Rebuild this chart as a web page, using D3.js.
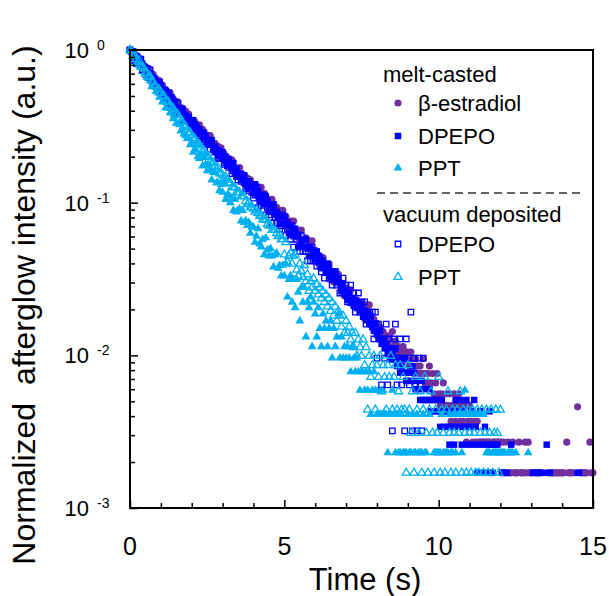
<!DOCTYPE html>
<html>
<head>
<meta charset="utf-8">
<script src="https://cdn.jsdelivr.net/npm/d3@7/dist/d3.min.js"></script>
<style>
  body { margin: 0; background: #fff; }
  svg text { font-family: "Liberation Sans", Arial, sans-serif; fill: #000; }
</style>
</head>
<body>
<svg id="chart" width="609" height="596"></svg>
<script>
/* global d3 */
// sampling interval of the afterglow traces (s)
var timeStep = 0.05;

// normalized intensity, one value per time step starting at 0 s (null = no count)
var estradiolMelt = [
  1, .955, .977, .891, .891, .912, .832, .851, .794, .759, .776, .741, .759, .692, .676, .692, .631, .646, .617, .631,
  .575, .589, .537, .550, .537, .501, .525, .479, .479, .447, .457, .457, .417, .417, .417, .380, .398, .363, .380, .347,
  .347, .324, .339, .302, .316, .324, .288, .302, .275, .257, .275, .263, .275, .240, .234, .245, .214, .234, .219, .229,
  .200, .209, .186, .195, .195, .178, .191, .170, .170, .155, .166, .170, .148, .151, .151, .132, .145, .132, .141, .126,
  .129, .120, .129, .110, .117, .126, .107, .115, .102, .0955, .105, .0977, .105, .0891, .0871, .0933, .0794, .0891, .0832, .0891,
  .0759, .0813, .0692, .0741, .0759, .0676, .0759, .0646, .0661, .0589, .0646, .0661, .0562, .0575, .0589, .0501, .0562, .0501, .0562, .0479,
  .0490, .0457, .0417, .0447, .0407, .0437, .0389, .0363, .0372, .0398, .0339, .0331, .0302, .0339, .0316, .0339,
  .0302, .0275, .0262, .0245, .0275, .0257, .0240, .0269, .0229, .0209, .0229, .0229, .0219, .0204, .0200, .0219, .0174, .0209, .0191, .0214,
  .0182, .0162, .0172, .0143, .0162, .0143, .0153, .0134, .0143, .0124, .0134, .0124, .0134, .0114,
  .0143, .0114, .0124, .0105, .0114, .0105, .0095, .0114, .0105, .0095,
  .0105, .0085, .0105, .0095, .0076, .0095, .0085, .0076, .0085, .0076, .0095, .0076, .0066, .0076, .0085, .0066, .0076, .0056, .0066, .0076,
  .0056, .0047, .0056, .0066, .0047, .0056, .0047, .0056, .0037, .0047, .0056, .0037, .0047, .0056, .0037, .0047, .0037, .0047, .0027, .0037,
  .0047, .0037, .0027, .0037, .0027, .0037, .0027, .0027, .0027, .0027, .0027, .0027, .0027, .0027, .0017, .0027, .0027, .0027, .0027, .0027,
  .0027, .0017, .0027, .0017, .0017, .0027, .0017, .0017, .0027, .0017, .0017, .0017, .0027, .0017, .0017, .0017, .0027, .0017, .0027, .0017,
  .0017, .0017, null, .0017, .0017, .0017, .0017, null, null, null, null, .0017, .0017, .0017, .0017, .0017, .0017, .0017, .0017, .0017,
  .0017, .0017, null, .0027, .0017, .0017, .0017, .0017, null, null, .0046, null, .0017, .0017, .0017, .0017, .0017, null, .0027, .0017,
  .0017
];
var dpepoMelt = [
  1, .977, .891, .912, .813, .851, .813, .776, .813, .776, .692, .708, .676, .708, .646, .661, .631, .575, .603, .562,
  .589, .550, .550, .501, .513, .479, .468, .490, .457, .457, .407, .407, .417, .389, .407, .380, .355, .363, .339, .339,
  .316, .347, .302, .316, .282, .302, .288, .269, .288, .275, .240, .251, .240, .257, .224, .234, .224, .204, .219, .200,
  .214, .195, .200, .174, .191, .174, .170, .182, .166, .166, .148, .148, .155, .141, .151, .138, .126, .138, .126, .126,
  .117, .132, .112, .120, .102, .112, .105, .0977, .110, .102, .0871, .0933, .0871, .0977, .0832, .0871, .0813, .0724, .0813, .0724,
  .0813, .0724, .0741, .0631, .0708, .0617, .0603, .0676, .0603, .0617, .0525, .0537, .0575, .0513, .0575, .0501, .0447, .0501, .0447, .0457,
  .0427, .0479, .0407, .0437, .0372, .0407, .0380, .0355, .0398, .0372, .0316, .0339, .0316, .0355, .0302, .0316, .0295, .0263, .0295, .0263,
  .0247, .0230, .0255, .0221, .0238, .0213, .0230, .0204, .0221, .0196, .0213, .0179, .0196, .0170, .0187, .0162, .0179, .0153, .0145, .0162,
  .0136, .0128, .0145, .0119, .0128, .0111, .0119, .0102, .0111, .0094, .0102, .0094, .0111, .0085, .0094, .0077, .0085, .0077, .0094, .0068,
  .0077, .0077, .0068, .0085, .0077, .0060, .0068, .0060, .0051, .0068, .0051, .0060, .0051, .0051, .0060, .0043, .0051, .0051, .0043, .0051,
  .0043, .0034, .0051, .0043, .0034, .0043, .0034, .0026, .0043, .0034, .0026, .0051, .0043, .0034, .0051, .0026, .0043, .0034, .0051, .0026,
  .0034, .0043, .0026, .0051, .0034, .0017, .0026, .0043, .0017, .0026, .0034, .0017, .0026, .0043, .0026, .0017, .0026, null, .0026, null,
  null, .0017, .0017, null, .0017, null, null, .0026, null, null, null, null, null, null, null, null, null, null, null, null,
  null, .0017, .0017, .0017, null, .0017, .0017, null, .0017, null, .0026, null, .0017, null, null, null, null, null, null, null,
  null, null, null, null, null, null, null, null, null, null, .0017, .0017
];
var pptMelt = [
  1, .977, .891, .891, .912, .813, .794, .794, .724, .759, .692, .661, .661, .631, .575, .603, .589, .537, .525, .490,
  .501, .457, .479, .417, .427, .417, .389, .389, .355, .372, .331, .331, .324, .295, .309, .282, .275, .263, .263, .240,
  .251, .214, .224, .240, .200, .195, .204, .174, .200, .178, .162, .174, .162, .141, .158, .158, .135, .135, .120, .132,
  .117, .132, .105, .112, .112, .100, .107, .0891, .105, .0871, .0891, .0912, .0759, .0891, .0741, .0759, .0708, .0741, .0631, .0692,
  .0692, .0550, .0603, .0676, .0537, .0513, .0575, .0457, .0589, .0490, .0447, .0501, .0447, .0380, .0457, .0468, .0372, .0389, .0331, .0389,
  .0331, .0398, .0241, .0314, .0332, .0223, .0314, .0205, .0314, .0259, .0168, .0278, .0223, .0278, .0132, .0223, .0205, .0241, .0114, .0223,
  .0187, .0132, .0205, .0150, .0114, .0187, .0150, .0168, .0114, .0150, .0168, .0096, .0150, .0114, .0132, .0187, .0096, .0132, .0096, .0114,
  .0096, .0114, .0096, .0078, .0114, .0096, .0078, .0096, .0078, .0059, .0078, .0078, .0059, .0078, .0059, .0078, .0041, .0059, .0078, .0059,
  .0041, .0059, .0041, .0041, .0059, .0041, .0041, .0023, .0041, .0041, .0059, .0041, .0023, .0041, .0023, .0023, .0041, .0023, .0023, .0023,
  .0041, .0023, .0023, .0041, .0023, .0023, .0041, .0023, .0023, .0023, .0041, .0023, .0023, null, .0041, null, null, .0023, .0023, .0023,
  .0023, .0023, .0041, .0023, .0023, .0023, .0023, .0041, .0023, .0023, .0041, .0023, null, .0041, .0041, .0023, .0041, .0059, .0041, .0041,
  .0041, null, .0041, null, .0041, null, null, .0041, null, .0041, null, .0023, .0023, .0023, null, .0023, .0023, .0023, .0023, .0023,
  .0023, .0023, .0023, .0023, null, .0023, .0023, .0023, .0023, null, .0023, null, null, null, null, null, null, null, .0023
];
var dpepoVac = [
  1, .977, .977, .851, .912, .832, .871, .871, .741, .776, .724, .759, .661, .741, .661, .631, .646, .575, .575, .617,
  .575, .513, .537, .537, .490, .525, .447, .479, .447, .427, .398, .447, .389, .407, .380, .347, .372, .339, .363, .331,
  .316, .316, .324, .288, .295, .275, .282, .282, .251, .257, .240, .245, .224, .240, .224, .214, .219, .195, .195, .204,
  .195, .178, .182, .182, .170, .174, .155, .162, .155, .148, .141, .151, .138, .141, .135, .123, .129, .120, .126, .117,
  .107, .112, .126, .0928, .112, .0960, .107, .112, .0832, .0928, .0832, .0928, .0736, .0960, .0800, .0736, .0832, .0672, .0704, .0832,
  .0768, .0608, .0672, .0704, .0576, .0704, .0512, .0640, .0576, .0512, .0480, .0608, .0480, .0544, .0480, .0416, .0512, .0416, .0512, .0416,
  .0416, .0384, .0448, .0384, .0352, .0416, .0320, .0352, .0384, .0320, .0352, .0288, .0320, .0352, .0288, .0320, .0256, .0288, .0320, .0256,
  .0288, .0224, .0256, .0288, .0224, .0256, .0192, .0224, .0256, .0192, .0224, .0192, .0224, .0160, .0192, .0192, .0160, .0192, .0128, .0192,
  .0096, .0160, .0128, .0064, .0128, .0096, .0160, .0064, .0128, .0096, .0032, .0128, .0160, .0064, .0096, .0128, .0064, .0096, .0032, .0128,
  .0096, .0064, .0192, .0032, .0096, .0064, .0032, .0096, .0064, .0032, .0096
];
var pptVac = [
  1, .977, .912, .933, .871, .832, .851, .776, .776, .759, .708, .708, .661, .676, .631, .617, .589,
  .575, .550, .550, .525, .501, .501, .468, .457, .457, .427, .417, .417, .380, .380, .380, .355, .339, .339, .316, .316,
  .302, .288, .288, .275, .263, .263, .245, .240, .240, .224, .219, .219, .200, .200, .200, .186, .182, .182, .174, .166,
  .170, .155, .155, .151, .145, .148, .141, .135, .135, .126, .126, .126, .117, .117, .117, .110, .110, .110, .102, .0977,
  .100, .0933, .0933, .0912, .0871, .0891, .0851, .0813, .0832, .0776, .0776, .0776, .0724, .0708, .0708, .0661, .0661, .0661, .0631, .0603,
  .0617, .0575, .0575,
  .0457, .0550, .0407, .0447, .0468, .0398, .0447, .0457, .0363, .0331, .0398, .0355, .0324, .0389, .0305, .0339, .0264,
  .0305, .0278, .0319, .0264, .0291, .0250, .0278, .0236, .0264, .0223, .0250, .0209, .0236, .0195, .0223, .0182, .0209, .0168, .0195, .0182,
  .0154, .0182, .0140, .0168, .0140, .0154, .0127, .0140, .0113, .0140, .0099, .0127, .0113, .0099, .0127, .0086, .0113, .0044, .0099, .0072,
  .0086, .0099, .0044, .0086, .0072, .0099, .0058, .0086, .0072, .0044, .0086, .0072, .0099, .0044, .0072, .0086, .0044, .0058, .0086, .0044,
  .0072, .0044, .0017, .0086, .0044, .0031, .0058, .0017, .0072, .0044, .0031, .0058, .0017, .0044, .0072, .0031, .0017, .0044, .0058, .0031,
  .0017, .0044, .0031, .0072, .0017, .0044, .0031, .0017, .0044, .0058, .0031, .0017, .0044, .0031, .0017, .0044, .0031, .0058, .0017, .0044,
  .0031, .0017, .0044, .0031, .0017, .0044, .0031, .0017, .0044, .0017, .0031, .0044, .0017, .0031, .0044, .0017, .0031, .0044, .0017, .0031,
  .0044, .0031, .0017, .0044
];

var xMajorTicks = [0, 5, 10, 15];
var yDecades = [1e-3, 1e-2, 1e-1, 1];
var yExponents = ['-3', '-2', '-1', '0'];
var legendGroups = ['melt-casted', 'vacuum deposited'];
var legendNames = ['\u03b2-estradiol', 'DPEPO', 'PPT', 'DPEPO', 'PPT'];

(function () {
  'use strict';

  var purple = '#7030a0';
  var blue = '#0000ff';
  var cyan = '#00b0f0';

  var left = 130, right = 593, top = 50, bottom = 508;

  var svg = d3.select('#chart');

  var x = d3.scaleLinear().domain([0, 15]).range([left, right]);
  var y = d3.scaleLog().domain([1e-3, 1]).range([bottom, top]);

  // series in drawing order (same as the legend); hollow markers are unfilled
  var series = [
    { values: estradiolMelt, symbol: d3.symbolCircle, size: 40, fill: purple, stroke: 'none' },
    { values: dpepoMelt, symbol: d3.symbolSquare, size: 42, fill: blue, stroke: 'none' },
    { values: pptMelt, symbol: d3.symbolTriangle, size: 34, fill: cyan, stroke: 'none' },
    { values: dpepoVac, symbol: d3.symbolSquare, size: 30, fill: 'none', stroke: blue },
    { values: pptVac, symbol: d3.symbolTriangle, size: 28, fill: 'none', stroke: cyan }
  ];

  series.forEach(function (s, k) {
    var pts = s.values
      .map(function (v, i) { return { t: i * timeStep, v: v }; })
      .filter(function (d) { return d.v !== null && d.v >= 1e-3; });

    svg.append('g')
      .attr('class', 'series s' + k)
      .selectAll('path')
      .data(pts)
      .enter().append('path')
      .attr('transform', function (d) { return 'translate(' + x(d.t) + ',' + y(d.v) + ')'; })
      .attr('d', d3.symbol().type(s.symbol).size(s.size))
      .attr('fill', s.fill)
      .attr('stroke', s.stroke)
      .attr('stroke-width', 1.3);
  });

  // frame
  svg.append('rect')
    .attr('x', left).attr('y', top)
    .attr('width', right - left).attr('height', bottom - top)
    .attr('fill', 'none').attr('stroke', '#000').attr('stroke-width', 2);

  // bottom axis, ticks inside
  var xAxis = d3.axisBottom(x)
    .tickValues(d3.range(0, 16, 1))
    .tickSize(-5)
    .tickFormat('');
  var gx = svg.append('g')
    .attr('transform', 'translate(0,' + bottom + ')')
    .call(xAxis);
  gx.select('.domain').remove();
  gx.selectAll('.tick line')
    .attr('stroke', '#000').attr('stroke-width', 1.5)
    .attr('y2', function (d) { return xMajorTicks.indexOf(d) >= 0 ? -8 : -5; });

  svg.selectAll('.xlabel')
    .data(xMajorTicks)
    .enter().append('text')
    .attr('class', 'xlabel')
    .attr('x', function (d) { return x(d); })
    .attr('y', 555)
    .attr('text-anchor', 'middle')
    .style('font-size', '25px')
    .text(function (d) { return d; });

  // left axis, log ticks inside
  var yAxis = d3.axisLeft(y)
    .tickValues(y.ticks())
    .tickSize(-5)
    .tickFormat('');
  var gy = svg.append('g')
    .attr('transform', 'translate(' + left + ',0)')
    .call(yAxis);
  gy.select('.domain').remove();
  gy.selectAll('.tick line')
    .attr('stroke', '#000').attr('stroke-width', 1.5)
    .attr('x2', function (d) { return yDecades.indexOf(d) >= 0 ? 8 : 5; });

  var ylab = svg.selectAll('.ylabel')
    .data(yDecades)
    .enter().append('g')
    .attr('class', 'ylabel')
    .attr('transform', function (d) { return 'translate(0,' + y(d) + ')'; });
  ylab.append('text')
    .attr('x', 89).attr('y', 8)
    .attr('text-anchor', 'end')
    .style('font-size', '22px')
    .text('10');
  ylab.append('text')
    .attr('x', 97).attr('y', 0)
    .style('font-size', '14px')
    .text(function (d, i) { return yExponents[i]; });

  // axis titles
  svg.append('text')
    .attr('x', 365).attr('y', 590)
    .attr('text-anchor', 'middle')
    .style('font-size', '31px')
    .text('Time (s)');
  svg.append('text')
    .attr('transform', 'translate(35,305) rotate(-90)')
    .attr('text-anchor', 'middle')
    .style('font-size', '32px')
    .text('Normalized\u00a0 afterglow intensity (a.u.)');

  // legend
  var lg = svg.append('g').attr('class', 'legend');
  var rowY = [103, 136, 168, 244, 277];

  lg.append('text').attr('x', 383).attr('y', 82)
    .style('font-size', '22px').text(legendGroups[0]);
  lg.append('text').attr('x', 383).attr('y', 222)
    .style('font-size', '22px').text(legendGroups[1]);
  lg.append('line')
    .attr('x1', 377).attr('x2', 585).attr('y1', 193).attr('y2', 193)
    .attr('stroke', '#666').attr('stroke-width', 2)
    .attr('stroke-dasharray', '8,5');

  series.forEach(function (s, k) {
    lg.append('path')
      .attr('transform', 'translate(398,' + rowY[k] + ')')
      .attr('d', d3.symbol().type(s.symbol).size(s.size))
      .attr('fill', s.fill)
      .attr('stroke', s.stroke)
      .attr('stroke-width', 1.3);
    lg.append('text')
      .attr('x', 418).attr('y', rowY[k] + 8)
      .style('font-size', '22px')
      .text(legendNames[k]);
  });
}());
</script>
</body>
</html>
